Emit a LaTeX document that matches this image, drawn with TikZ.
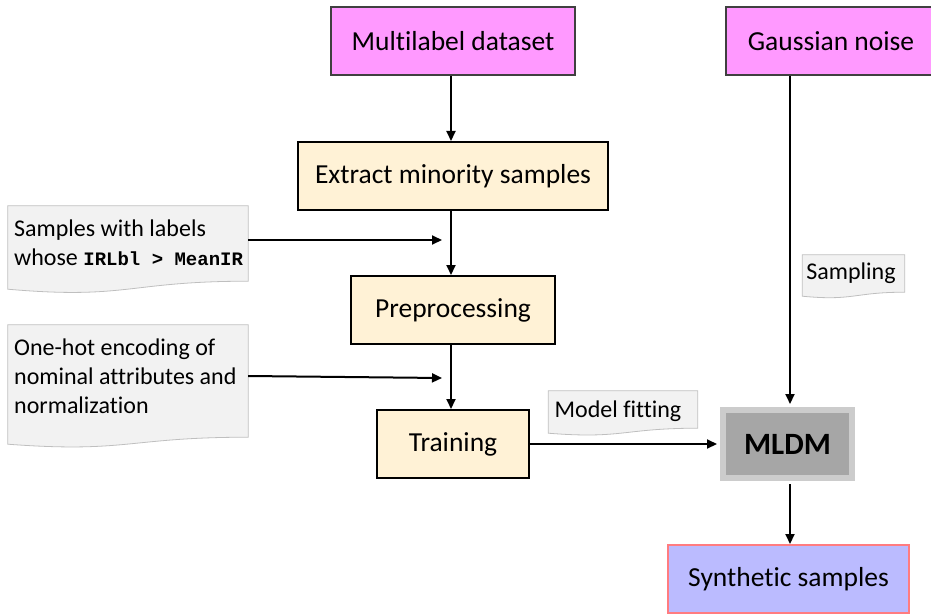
\documentclass[tikz,border=0pt]{standalone}
\usepackage{fontspec}
\setmainfont[Ligatures=CommonOff]{Carlito}
\setmonofont{Liberation Mono}
\usetikzlibrary{arrows.meta,calc}

\definecolor{sourcefill}{HTML}{FF99FF}
\definecolor{sourceline}{HTML}{404040}
\definecolor{stepfill}{HTML}{FFF2D6}
\definecolor{modelfill}{HTML}{A6A6A6}
\definecolor{modelline}{HTML}{CCCCCC}
\definecolor{outfill}{HTML}{BBBBFF}
\definecolor{outline}{HTML}{FF7C80}
\definecolor{notefill}{HTML}{F2F2F2}
\definecolor{noteline}{HTML}{BFBFBF}

\tikzset{
  boxtext/.style={font=\fontsize{27.5}{31}\selectfont},
  sourcebox/.style={boxtext, draw=sourceline, fill=sourcefill, line width=2pt,
    minimum height=68pt, inner sep=0pt},
  stepbox/.style={boxtext, draw=black, fill=stepfill, line width=2pt,
    minimum height=68pt, inner sep=0pt},
  modelbox/.style={draw=modelline, fill=modelfill, line width=6pt,
    minimum width=129pt, minimum height=68pt, inner sep=0pt,
    font=\fontsize{31}{35}\selectfont\bfseries},
  outbox/.style={boxtext, draw=outline, fill=outfill, line width=2pt,
    minimum width=241pt, minimum height=68pt, inner sep=0pt},
  notetext/.style={font=\fontsize{24}{29}\selectfont, align=left,
    inner sep=0pt},
  notebody/.style={draw=noteline, fill=notefill, line width=0.8pt},
  flow/.style={line width=2pt, -{Triangle[length=10pt,width=9pt]}}
}
\newcommand{\codetxt}[1]{{\ttfamily\bfseries\fontsize{19}{29}\selectfont #1}}

% note shape: rectangle whose lower edge is a wave, drawn round an empty node
% #1 node name, #2 drop of the left corner, #3 depth of the wave control
\newcommand{\notewave}[3]{%
  \draw[notebody] (#1.south east)
    .. controls (#1.south) and ($(#1.south)+(0,#3)$) ..
    ($(#1.south west)+(0,#2)$) -- (#1.north west) -- (#1.north east) -- cycle;}

\begin{document}
\begin{tikzpicture}[x=1pt,y=-1pt]
\useasboundingbox (0,0) rectangle (931,615);

% note shapes
\node[minimum width=240pt, minimum height=75pt, inner sep=0pt] (n1s) at (128,243.5) {};
\notewave{n1s}{8}{18.5}
\node[minimum width=240pt, minimum height=112pt, inner sep=0pt] (n2s) at (128,381) {};
\notewave{n2s}{7}{16}
\node[minimum width=149pt, minimum height=37pt, inner sep=0pt] (n3s) at (623,409.5) {};
\notewave{n3s}{5}{11}
\node[minimum width=102pt, minimum height=37pt, inner sep=0pt] (n4s) at (853.5,273.5) {};
\notewave{n4s}{4}{9}

% note texts
\node[notetext, anchor=west] (n1) at (14,242.5)
  {Samples with labels\\whose \codetxt{IRLbl > MeanIR}};
\node[notetext, anchor=west] (n2) at (14,376.5)
  {One-hot encoding of\\nominal attributes and\\normalization};
\node[notetext] (n3) at (618,411) {Model fitting};
\node[notetext] (n4) at (851,273) {Sampling};

% process boxes
\node[sourcebox, minimum width=244pt] (data) at (453,41) {Multilabel dataset};
\node[sourcebox, minimum width=210pt] (noise) at (831,41) {Gaussian noise};
\node[stepbox, minimum width=310pt] (extract) at (453,176) {Extract minority samples};
\node[stepbox, minimum width=204pt] (prep) at (453,310) {Preprocessing};
\node[stepbox, minimum width=152pt] (train) at (453,444) {Training};
\node[modelbox] (mldm) at (787.5,444) {MLDM};
\node[outbox] (synth) at (788.5,579) {Synthetic samples};

% arrow ends on the main column
\coordinate (c1) at (442,240);
\coordinate (c2) at (442,378);

% connectors
\draw[flow] (data.south -| 451,0) -- (extract.north -| 451,0);
\draw[flow] (extract.south -| 451,0) -- (prep.north -| 451,0);
\draw[flow] (prep.south -| 451,0) -- (train.north -| 451,0);
\draw[flow] (n1s.east |- c1) -- (c1);
\draw[flow] (n2s.east |- 0,376) -- (c2);
\draw[flow] (train.east) -- ($(mldm.west)+(-3,0)$);
\draw[flow] (noise.south -| 790,0) -- ($(mldm.north -| 790,0)+(0,-3)$);
\draw[flow] ($(mldm.south -| 790,0)+(0,3)$) -- (synth.north -| 790,0);
\end{tikzpicture}
\end{document}
